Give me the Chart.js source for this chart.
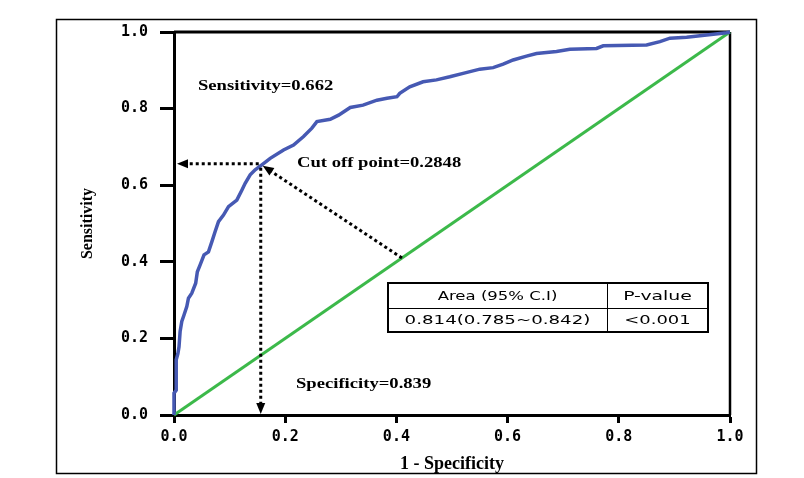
<!DOCTYPE html>
<html>
<head>
<meta charset="utf-8">
<script src="https://cdn.jsdelivr.net/npm/chart.js@4"></script>
<style>
  html, body { margin: 0; padding: 0; background: #fff; }
  #wrap { width: 804px; height: 478px; }
</style>
</head>
<body>
<div id="wrap"><canvas id="roc" width="804" height="478"></canvas></div>
<script>
// ROC curve: 1 - specificity / sensitivity
const rocFpr = [0, 0, 0.004, 0.004, 0.007, 0.009, 0.011, 0.014, 0.018, 0.023, 0.026, 0.032, 0.039, 0.042,
  0.047, 0.054, 0.062, 0.068, 0.074, 0.080, 0.089, 0.098, 0.113, 0.122, 0.128, 0.137, 0.146, 0.158,
  0.173, 0.197, 0.215, 0.233, 0.248, 0.257, 0.281, 0.296, 0.317, 0.340, 0.365, 0.383, 0.401, 0.406,
  0.424, 0.448, 0.472, 0.496, 0.520, 0.550, 0.574, 0.592, 0.610, 0.634, 0.652, 0.688, 0.712, 0.760,
  0.772, 0.850, 0.874, 0.892, 0.922, 0.958, 0.994, 1];
const rocTpr = [0, 0.057, 0.065, 0.144, 0.160, 0.178, 0.218, 0.244, 0.261, 0.283, 0.305, 0.318, 0.344, 0.374,
  0.392, 0.418, 0.426, 0.452, 0.479, 0.505, 0.522, 0.544, 0.561, 0.587, 0.605, 0.627, 0.640, 0.653,
  0.670, 0.692, 0.705, 0.727, 0.749, 0.766, 0.772, 0.783, 0.803, 0.809, 0.822, 0.827, 0.831, 0.840,
  0.857, 0.870, 0.875, 0.883, 0.892, 0.903, 0.907, 0.916, 0.927, 0.937, 0.944, 0.949, 0.955, 0.957,
  0.964, 0.966, 0.975, 0.984, 0.986, 0.992, 0.998, 1];

// reference (chance) line
const refFpr = [0, 1];
const refTpr = [0, 1];

const axisTicks = [0, 0.2, 0.4, 0.6, 0.8, 1.0];

// cut-off point and the foot of its normal on the diagonal
const cutPoint = [0.156, 0.656];
const diagFoot = [0.41, 0.41];

const noteTexts = ['Sensitivity=0.662', 'Cut off point=0.2848', 'Specificity=0.839'];
const tableHead = ['Area (95% C.I)', 'P-value'];
const tableRow = ['0.814(0.785~0.842)', '<0.001'];

function wideText(ctx, str, x, y, sx, align) {
  ctx.save();
  ctx.translate(x, y);
  ctx.scale(sx, 1);
  ctx.textAlign = align || 'left';
  ctx.fillText(str, 0, 0);
  ctx.restore();
}

function arrowHead(ctx, tipX, tipY, fromX, fromY) {
  const a = Math.atan2(tipY - fromY, tipX - fromX);
  ctx.save();
  ctx.translate(tipX, tipY);
  ctx.rotate(a);
  ctx.beginPath();
  ctx.moveTo(0, 0);
  ctx.lineTo(-11, -4.5);
  ctx.lineTo(-11, 4.5);
  ctx.closePath();
  ctx.fill();
  ctx.restore();
}

function dotted(ctx, x1, y1, x2, y2) {
  ctx.save();
  ctx.setLineDash([3, 3]);
  ctx.lineWidth = 3;
  ctx.strokeStyle = '#000';
  ctx.beginPath();
  ctx.moveTo(x1, y1);
  ctx.lineTo(x2, y2);
  ctx.stroke();
  ctx.restore();
}

const rocDecor = {
  id: 'rocDecor',
  beforeDraw(chart) {
    const ctx = chart.ctx;
    ctx.save();
    ctx.fillStyle = '#fff';
    ctx.fillRect(0, 0, chart.width, chart.height);
    // outer frame
    ctx.strokeStyle = '#000';
    ctx.lineWidth = 1.5;
    ctx.strokeRect(56.5, 19.5, 700, 454);
    ctx.restore();
  },
  beforeDatasetsDraw(chart) {
    const ctx = chart.ctx;
    const a = chart.chartArea;
    ctx.save();
    ctx.strokeStyle = '#000';
    ctx.lineWidth = 3;
    ctx.beginPath();
    ctx.moveTo(a.left, a.top);
    ctx.lineTo(a.right, a.top);
    ctx.stroke();
    ctx.lineWidth = 2.5;
    ctx.beginPath();
    ctx.moveTo(a.right, a.top);
    ctx.lineTo(a.right, a.bottom);
    ctx.stroke();
    ctx.restore();
  },
  afterDraw(chart) {
    const ctx = chart.ctx;
    const xs = chart.scales.x, ys = chart.scales.y;
    const cx = xs.getPixelForValue(cutPoint[0]);
    const cy = ys.getPixelForValue(cutPoint[1]);
    const x0 = xs.getPixelForValue(0);
    const y0 = ys.getPixelForValue(0);
    const fx = xs.getPixelForValue(diagFoot[0]);
    const fy = ys.getPixelForValue(diagFoot[1]);

    ctx.save();
    ctx.fillStyle = '#000';
    // horizontal arrow to the sensitivity axis
    dotted(ctx, cx - 2, cy, x0 + 13, cy);
    arrowHead(ctx, x0 + 3, cy, cx, cy);
    // vertical arrow down to the specificity axis
    dotted(ctx, cx, cy + 4, cx, y0 - 11);
    arrowHead(ctx, cx, y0 - 1, cx, cy);
    // normal from the diagonal to the cut-off point
    const ang = Math.atan2(cy - fy, cx - fx);
    const tipX = cx + 2, tipY = cy + 2;
    dotted(ctx, fx, fy, tipX - 10 * Math.cos(ang), tipY - 10 * Math.sin(ang));
    arrowHead(ctx, tipX, tipY, fx, fy);

    // notes
    ctx.font = 'bold 14px "Liberation Serif"';
    ctx.textBaseline = 'alphabetic';
    wideText(ctx, noteTexts[0], 198, 90, 1.33);
    wideText(ctx, noteTexts[1], 297, 167, 1.33);
    wideText(ctx, noteTexts[2], 296, 388, 1.33);

    // AUC table
    const tl = 388, tt = 283, tr = 708, tb = 332, mid = 308, col = 607;
    ctx.fillStyle = '#fff';
    ctx.fillRect(tl, tt, tr - tl, tb - tt);
    ctx.strokeStyle = '#000';
    ctx.lineWidth = 1;
    ctx.beginPath();
    ctx.moveTo(tl, mid + 0.5); ctx.lineTo(tr, mid + 0.5);
    ctx.moveTo(col + 0.5, tt); ctx.lineTo(col + 0.5, tb);
    ctx.stroke();
    ctx.lineWidth = 2;
    ctx.strokeRect(tl, tt, tr - tl, tb - tt);
    ctx.fillStyle = '#000';
    ctx.font = '13px "DejaVu Sans"';
    ctx.textBaseline = 'middle';
    wideText(ctx, tableHead[0], (tl + col) / 2, (tt + mid) / 2 + 1, 1.27, 'center');
    wideText(ctx, tableHead[1], (col + tr) / 2, (tt + mid) / 2 + 1, 1.45, 'center');
    wideText(ctx, tableRow[0], (tl + col) / 2, (mid + tb) / 2 + 1, 1.4, 'center');
    wideText(ctx, tableRow[1], (col + tr) / 2, (mid + tb) / 2 + 1, 1.38, 'center');
    ctx.restore();
  }
};

const tickFont = { family: '"DejaVu Sans Mono"', size: 15, weight: 'bold' };

new Chart(document.getElementById('roc'), {
  type: 'scatter',
  data: {
    datasets: [{
      label: 'ROC',
      data: rocFpr.map((v, i) => ({ x: v, y: rocTpr[i] })),
      showLine: true,
      borderColor: '#4659b3',
      borderWidth: 3.5,
      pointRadius: 0,
      tension: 0,
      clip: false
    }, {
      label: 'Reference',
      data: refFpr.map((v, i) => ({ x: v, y: refTpr[i] })),
      showLine: true,
      borderColor: '#3cb94a',
      borderWidth: 3,
      pointRadius: 0,
      clip: false
    }]
  },
  options: {
    responsive: false,
    animation: false,
    devicePixelRatio: 1,
    layout: { padding: { top: 32, right: 74, bottom: 0, left: 0 } },
    plugins: { legend: { display: false }, tooltip: { enabled: false } },
    scales: {
      x: {
        type: 'linear', min: 0, max: 1,
        afterBuildTicks: s => { s.ticks = axisTicks.map(v => ({ value: v })); },
        afterFit: s => { s.height = 63; },
        grid: { display: true, drawOnChartArea: false, drawTicks: true, tickLength: 8, tickWidth: 3, tickColor: '#000' },
        border: { display: true, color: '#000', width: 3 },
        ticks: { color: '#000', font: tickFont, padding: 5, maxRotation: 0, callback: v => v.toFixed(1) },
        title: { display: true, text: '1 - Specificity', color: '#000',
          font: { family: '"Liberation Serif"', size: 18, weight: 'bold' }, padding: { top: 0, bottom: 3 } }
      },
      y: {
        type: 'linear', min: 0, max: 1,
        afterBuildTicks: s => { s.ticks = axisTicks.map(v => ({ value: v })); },
        afterFit: s => { s.width = 174; },
        grid: { display: true, drawOnChartArea: false, drawTicks: true, tickLength: 14, tickWidth: 3, tickColor: '#000' },
        border: { display: true, color: '#000', width: 3 },
        ticks: { color: '#000', font: tickFont, padding: 12, callback: v => v.toFixed(1) },
        title: { display: true, text: 'Sensitivity', color: '#000',
          font: { family: '"Liberation Serif"', size: 16, weight: 'bold' }, padding: { top: 78, bottom: 0 } }
      }
    }
  },
  plugins: [rocDecor]
});
</script>
</body>
</html>
